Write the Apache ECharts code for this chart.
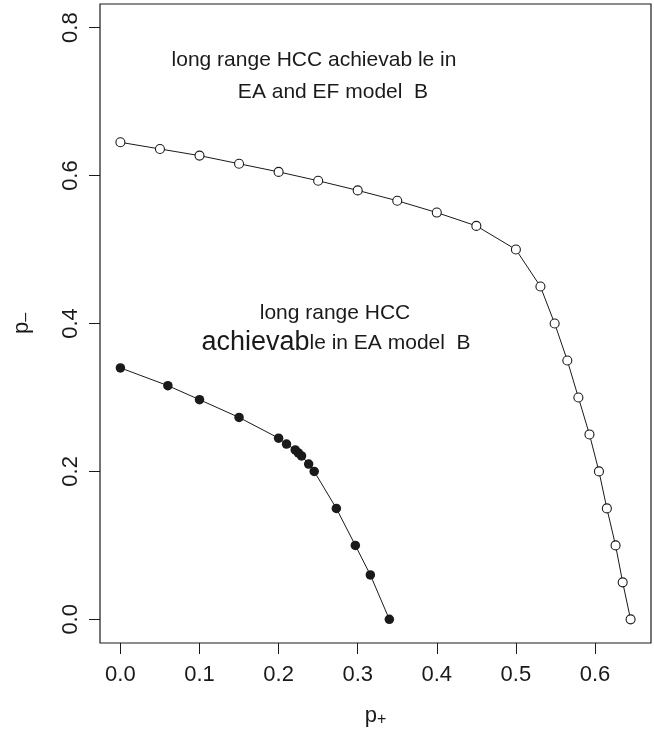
<!DOCTYPE html>
<html><head><meta charset="utf-8">
<script src="https://cdn.jsdelivr.net/npm/echarts@6/dist/echarts.min.js"></script>
<style>html,body{margin:0;padding:0;background:#fff}#c{width:654px;height:735px}</style>
</head><body><div id="c"></div>
<script>
// tick labels
const xTicks = [0, 0.1, 0.2, 0.3, 0.4, 0.5, 0.6];
const yTicks = [0, 0.2, 0.4, 0.6, 0.8];
// open circles: long range HCC achievable in EA and EF model B
const eaefX = [0, 0.05, 0.1, 0.15, 0.2, 0.25, 0.3, 0.35, 0.4, 0.45, 0.5, 0.531, 0.549, 0.565, 0.579, 0.593, 0.605, 0.615, 0.626, 0.635, 0.645];
const eaefY = [0.645, 0.636, 0.627, 0.616, 0.605, 0.593, 0.580, 0.566, 0.550, 0.532, 0.500, 0.45, 0.40, 0.35, 0.30, 0.25, 0.20, 0.15, 0.10, 0.05, 0];
// filled circles: long range HCC achievable in EA model B
const eaX = [0, 0.06, 0.1, 0.15, 0.2, 0.21, 0.221, 0.225, 0.229, 0.238, 0.245, 0.273, 0.297, 0.316, 0.34];
const eaY = [0.34, 0.316, 0.297, 0.273, 0.245, 0.237, 0.229, 0.225, 0.221, 0.21, 0.2, 0.15, 0.1, 0.06, 0];

const INK = '#1a1a1a';
const FONT = 'Liberation Sans, Arial, Helvetica, sans-serif';
const zip = (xs, ys) => xs.map((x, i) => [x, ys[i]]);

const chart = echarts.init(document.getElementById('c'), null, {renderer: 'canvas'});
chart.setOption({
  backgroundColor: '#fff',
  animation: false,
  grid: {left: 100, right: 3, top: 4, bottom: 92, show: true, borderColor: INK, borderWidth: 1.2, backgroundColor: 'transparent'},
  xAxis: {
    type: 'value', min: -0.0258, max: 0.6708,
    axisLine: {show: false, onZero: false},
    splitLine: {show: false},
    axisTick: {show: true, inside: false, customValues: xTicks, length: 11, lineStyle: {color: INK, width: 1}},
    axisLabel: {customValues: xTicks, formatter: v => v.toFixed(1), fontSize: 22, fontFamily: FONT, color: INK, margin: 21},
    name: '{p|p}{s|+}', nameLocation: 'middle', nameGap: 62,
    nameTextStyle: {rich: {
      p: {fontSize: 22, fontFamily: FONT, color: INK, padding: [0, 0, 7, 0]},
      s: {fontSize: 16, fontFamily: FONT, color: INK}
    }}
  },
  yAxis: {
    type: 'value', min: -0.032, max: 0.832,
    axisLine: {show: false, onZero: false},
    splitLine: {show: false},
    axisTick: {show: true, inside: false, customValues: yTicks, length: 11, lineStyle: {color: INK, width: 1}},
    axisLabel: {customValues: yTicks, formatter: v => v.toFixed(1), fontSize: 22, fontFamily: FONT, color: INK, margin: 18, rotate: 90},
    name: '{p|p}{s|\u2013}', nameLocation: 'middle', nameGap: 60, nameRotate: 90,
    nameTextStyle: {rich: {
      p: {fontSize: 22, fontFamily: FONT, color: INK, padding: [0, 0, 7, 0]},
      s: {fontSize: 16, fontFamily: FONT, color: INK}
    }}
  },
  series: [
    {
      type: 'line', data: zip(eaefX, eaefY), symbol: 'circle', symbolSize: 9,
      lineStyle: {color: INK, width: 1},
      itemStyle: {color: '#fff', borderColor: INK, borderWidth: 1.1},
      z: 3
    },
    {
      type: 'line', data: zip(eaX, eaY), symbol: 'circle', symbolSize: 9.5,
      lineStyle: {color: INK, width: 1},
      itemStyle: {color: INK, borderColor: INK, borderWidth: 0},
      z: 3
    }
  ],
  graphic: [
    {type: 'text', x: 314, y: 60, style: {text: 'long range HCC achievab le in', fontSize: 21, fontFamily: FONT, fill: INK, align: 'center', verticalAlign: 'middle'}},
    {type: 'text', x: 333, y: 92, style: {text: 'EA and EF model  B', fontSize: 21, fontFamily: FONT, fill: INK, align: 'center', verticalAlign: 'middle'}},
    {type: 'text', x: 335, y: 313, style: {text: 'long range HCC', fontSize: 21, fontFamily: FONT, fill: INK, align: 'center', verticalAlign: 'middle'}},
    {type: 'text', x: 336, y: 343, style: {
      text: '{b|achievab}{n|le in EA model  B}', align: 'center', verticalAlign: 'middle',
      rich: {
        b: {fontSize: 27, fontFamily: FONT, fill: INK},
        n: {fontSize: 21, fontFamily: FONT, fill: INK}
      }
    }}
  ]
});
</script>
</body></html>
